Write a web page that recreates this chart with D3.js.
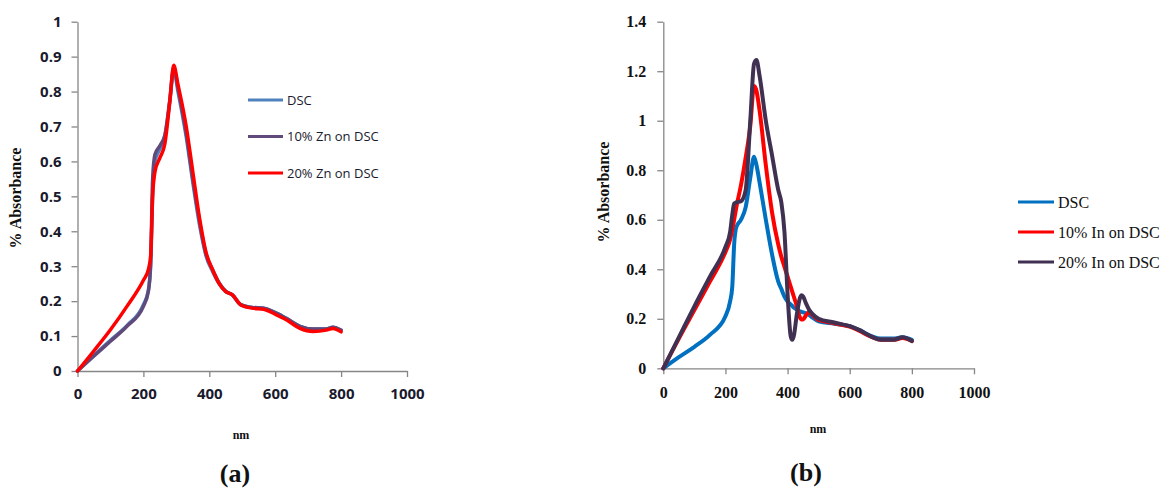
<!DOCTYPE html>
<meta charset="utf-8">
<style>
body { margin: 0; background: #fff; }
svg { display: block; }
.axis path, .axis line { stroke: #868686; stroke-width: 1.3px; }
.sans text { font-family: "Open Sans", sans-serif; font-weight: bold; fill: #1a1a2e; }
.serif text { font-family: "Liberation Serif", "Times New Roman", serif; font-weight: bold; fill: #111; }
.leg text { font-weight: normal; }
</style>
<body>
<svg width="1168" height="495"></svg>
</body>
<script src="https://d3js.org/d3.v7.min.js"></script>
<script>

// ---- panel (a) data ----
var xA = [0, 50, 100, 150, 200, 215, 222, 228, 235, 250, 265, 280, 292, 305, 330, 350, 370, 390, 410, 430, 450, 470, 495, 530, 565, 605, 635, 675, 715, 755, 775, 800];
var aDSC = [0, 0.045, 0.088, 0.13, 0.19, 0.23, 0.3, 0.5, 0.6, 0.635, 0.67, 0.77, 0.86, 0.8, 0.67, 0.54, 0.42, 0.33, 0.285, 0.25, 0.228, 0.218, 0.19, 0.182, 0.18, 0.165, 0.15, 0.128, 0.12, 0.12, 0.125, 0.116];
var a10 = [0, 0.043, 0.085, 0.128, 0.185, 0.228, 0.31, 0.55, 0.62, 0.645, 0.675, 0.775, 0.868, 0.81, 0.68, 0.55, 0.43, 0.335, 0.29, 0.252, 0.228, 0.218, 0.19, 0.182, 0.18, 0.165, 0.15, 0.128, 0.12, 0.12, 0.125, 0.117];
var a20 = [0, 0.058, 0.118, 0.185, 0.26, 0.29, 0.33, 0.5, 0.57, 0.61, 0.65, 0.77, 0.875, 0.82, 0.7, 0.57, 0.44, 0.34, 0.29, 0.25, 0.227, 0.218, 0.19, 0.18, 0.177, 0.16, 0.146, 0.122, 0.113, 0.117, 0.122, 0.112];
var namesA = ["DSC", "10% Zn on DSC", "20% Zn on DSC"];
var colorsA = ["#4f81bd", "#604a7b", "#ff0000"];
var yTicksA = [0, 0.1, 0.2, 0.3, 0.4, 0.5, 0.6, 0.7, 0.8, 0.9, 1];

// ---- panel (b) data ----
var xB = [0, 50, 100, 150, 200, 215, 222, 228, 235, 250, 265, 280, 292, 300, 310, 330, 350, 370, 380, 390, 400, 410, 415, 420, 430, 440, 445, 450, 460, 470, 480, 500, 550, 600, 630, 670, 700, 740, 770, 800];
var bDSC = [0, 0.045, 0.087, 0.135, 0.21, 0.27, 0.33, 0.5, 0.57, 0.6, 0.65, 0.77, 0.855, 0.82, 0.75, 0.6, 0.46, 0.35, 0.32, 0.29, 0.27, 0.258, 0.252, 0.245, 0.238, 0.23, 0.228, 0.226, 0.222, 0.215, 0.205, 0.19, 0.18, 0.17, 0.155, 0.13, 0.12, 0.12, 0.125, 0.115];
var b10 = [0, 0.12, 0.235, 0.35, 0.47, 0.52, 0.56, 0.6, 0.65, 0.74, 0.85, 0.98, 1.14, 1.12, 1.04, 0.82, 0.63, 0.5, 0.45, 0.41, 0.37, 0.33, 0.31, 0.29, 0.25, 0.205, 0.197, 0.198, 0.215, 0.228, 0.215, 0.195, 0.182, 0.168, 0.152, 0.127, 0.115, 0.115, 0.122, 0.11];
var b20 = [0, 0.125, 0.25, 0.37, 0.49, 0.55, 0.62, 0.665, 0.67, 0.675, 0.72, 1.0, 1.23, 1.245, 1.18, 1.0, 0.86, 0.72, 0.67, 0.55, 0.3, 0.13, 0.115, 0.13, 0.22, 0.285, 0.295, 0.29, 0.26, 0.235, 0.22, 0.2, 0.185, 0.17, 0.155, 0.128, 0.115, 0.115, 0.125, 0.11];
var namesB = ["DSC", "10% In on DSC", "20% In on DSC"];
var colorsB = ["#0070c0", "#ff0000", "#403152"];
var yTicksB = [0, 0.2, 0.4, 0.6, 0.8, 1, 1.2, 1.4];

var xTicks = [0, 200, 400, 600, 800, 1000];

var svg = d3.select("svg");

function panel(p) {
  var g = svg.append("g").attr("class", p.font);
  var x = d3.scaleLinear().domain([0, 1000]).range([p.x0, p.x1]);
  var y = d3.scaleLinear().domain([0, p.ymax]).range([p.y0, p.y1]);

  g.append("g").attr("class", "axis")
      .attr("transform", "translate(0," + p.y0 + ")")
      .call(d3.axisBottom(x).tickValues(xTicks).tickSize(6).tickSizeOuter(0).tickPadding(p.xpad)
        .tickFormat(function(d) { return String(d); }));
  g.append("g").attr("class", "axis")
      .attr("transform", "translate(" + p.x0 + ",0)")
      .call(d3.axisLeft(y).tickValues(p.yticks).tickSize(6).tickSizeOuter(0).tickPadding(p.ypad)
        .tickFormat(function(d) { return String(d); }));
  g.selectAll(".axis text").style("font-size", p.tickSize + "px").attr("fill", null);
  g.selectAll(".axis .domain").attr("stroke", "#868686");
  g.selectAll(".axis line").attr("stroke", "#868686");

  var line = d3.line().curve(d3.curveMonotoneX);
  p.series.forEach(function(s, i) {
    var pts = p.xs.map(function(v, j) { return [x(v), y(s[j])]; });
    g.append("path").attr("d", line(pts))
      .attr("fill", "none").attr("stroke", p.colors[i])
      .attr("stroke-width", p.lw).attr("stroke-linejoin", "round").attr("stroke-linecap", "round");
  });

  // legend
  var lg = svg.append("g").attr("class", p.font + " leg");
  p.names.forEach(function(n, i) {
    var ly = p.ly + i * p.lstep;
    lg.append("line").attr("x1", p.lx).attr("x2", p.lx + p.llen)
      .attr("y1", ly).attr("y2", ly).attr("stroke", p.colors[i]).attr("stroke-width", 3);
    lg.append("text").attr("x", p.lx + p.llen + 4).attr("y", ly).attr("dy", "0.35em")
      .style("font-size", p.lsize + "px").text(n);
  });

  // titles
  var tg = svg.append("g").attr("class", "serif");
  tg.append("text").attr("transform", "translate(" + p.ylx + "," + p.yly + ") rotate(-90)")
    .attr("text-anchor", "middle").style("font-size", "16px").text("% Absorbance");
  tg.append("text").attr("x", p.nmx).attr("y", p.nmy).attr("text-anchor", "middle")
    .style("font-size", "12px").text("nm");
  tg.append("text").attr("x", p.capx).attr("y", p.capy).attr("text-anchor", "middle")
    .style("font-size", "26px").text(p.cap);
}

panel({
  x0: 77.5, x1: 407, y0: 371, y1: 21.7, ymax: 1, yticks: yTicksA,
  font: "sans", tickSize: 15, xpad: 11, ypad: 10,
  xs: xA, series: [aDSC, a10, a20], colors: colorsA, names: namesA, lw: 3.5,
  lx: 248, llen: 35, ly: 100, lstep: 36.5, lsize: 13,
  ylx: 21, yly: 198, nmx: 241, nmy: 439, capx: 235, capy: 482, cap: "(a)"
});

panel({
  x0: 663.3, x1: 974, y0: 368.3, y1: 21.7, ymax: 1.4, yticks: yTicksB,
  font: "serif", tickSize: 16, xpad: 12, ypad: 11,
  xs: xB, series: [bDSC, b10, b20], colors: colorsB, names: namesB, lw: 4,
  lx: 1018, llen: 36, ly: 202, lstep: 30, lsize: 16,
  ylx: 609, yly: 192, nmx: 818, nmy: 433, capx: 806, capy: 481, cap: "(b)"
});

</script>
